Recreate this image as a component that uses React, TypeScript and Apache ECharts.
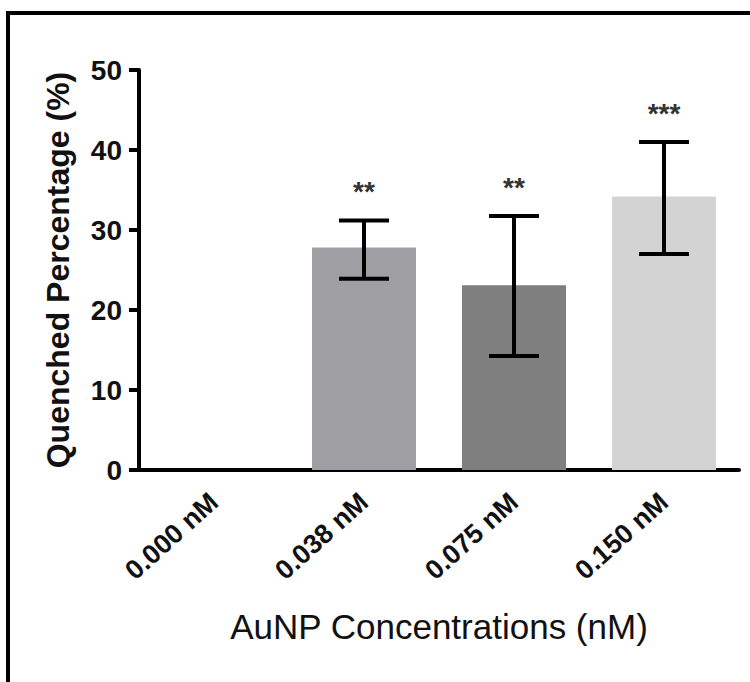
import React, { useEffect, useRef } from "react";
import * as echarts from "echarts";

const categories = ["0.000 nM", "0.038 nM", "0.075 nM", "0.150 nM"];
const means = [0, 27.8, 23.1, 34.2];
const errLow: (number | null)[] = [null, 23.9, 14.25, 27.0];
const errHigh: (number | null)[] = [null, 31.2, 31.75, 41.0];
const stars = ["", "**", "**", "***"];
const barColors = ["#9f9ea3", "#9f9ea3", "#7f7f7f", "#d3d3d3"];
const yTicks = [0, 10, 20, 30, 40, 50];

const FONT = "'Liberation Sans', Arial, Helvetica, sans-serif";

export default function App() {
  const ref = useRef<HTMLDivElement>(null);
  useEffect(() => {
    if (!ref.current) return;
    const chart = echarts.init(ref.current, null, { renderer: "svg" });
    const errData = categories.map((_, i) => [i, errLow[i], errHigh[i], stars[i]]);
    chart.setOption({
      animation: false,
      backgroundColor: "#ffffff",
      textStyle: { fontFamily: FONT },
      graphic: [
        {
          type: "rect",
          silent: true,
          z: 100,
          shape: { x: 8, y: 13, width: 900, height: 900 },
          style: { fill: "none", stroke: "#000", lineWidth: 4 },
        },
      ],
      grid: { left: 139, right: 11, top: 70, bottom: 212, containLabel: false },
      xAxis: {
        type: "category",
        data: categories,
        boundaryGap: true,
        name: "AuNP Concentrations (nM)",
        nameLocation: "middle",
        nameGap: 156,
        nameTextStyle: {
          fontFamily: FONT,
          fontSize: 35,
          color: "#111",
          verticalAlign: "middle",
        },
        axisLine: { lineStyle: { color: "#000", width: 4 } },
        axisTick: { alignWithLabel: true, length: 11, lineStyle: { color: "#000", width: 4 } },
        axisLabel: {
          rotate: 42,
          margin: 28,
          fontFamily: FONT,
          fontSize: 27,
          fontWeight: "bold",
          color: "#111",
        },
        splitLine: { show: false },
      },
      yAxis: {
        type: "value",
        min: yTicks[0],
        max: yTicks[yTicks.length - 1],
        interval: 10,
        name: "Quenched Percentage (%)",
        nameLocation: "middle",
        nameGap: 81,
        nameTextStyle: {
          fontFamily: FONT,
          fontSize: 32,
          fontWeight: "bold",
          color: "#111",
          verticalAlign: "middle",
        },
        axisLine: { show: true, lineStyle: { color: "#000", width: 4 } },
        axisTick: { show: true, length: 10, lineStyle: { color: "#000", width: 4 } },
        axisLabel: {
          margin: 17,
          fontFamily: FONT,
          fontSize: 28,
          fontWeight: "bold",
          color: "#111",
        },
        splitLine: { show: false },
      },
      series: [
        {
          type: "bar",
          barWidth: 104,
          data: means.map((v, i) => ({ value: v, itemStyle: { color: barColors[i] } })),
          z: 2,
        },
        {
          type: "custom",
          z: 5,
          data: errData,
          encode: { x: 0, y: [1, 2] },
          renderItem: (params: any, api: any) => {
            const idx = api.value(0);
            const lo = api.value(1);
            const hi = api.value(2);
            const i = params.dataIndex;
            if (errLow[i] == null || errHigh[i] == null) return null;
            const top = api.coord([idx, hi]);
            const bot = api.coord([idx, lo]);
            const half = 25;
            const ls = { stroke: "#000", lineWidth: 4 };
            return {
              type: "group",
              children: [
                { type: "line", shape: { x1: top[0], y1: top[1], x2: bot[0], y2: bot[1] }, style: ls },
                { type: "line", shape: { x1: top[0] - half, y1: top[1], x2: top[0] + half, y2: top[1] }, style: ls },
                { type: "line", shape: { x1: bot[0] - half, y1: bot[1], x2: bot[0] + half, y2: bot[1] }, style: ls },
                {
                  type: "text",
                  x: top[0],
                  y: top[1] - 29,
                  style: {
                    text: stars[i],
                    fill: "#333",
                    fontFamily: FONT,
                    fontSize: 28,
                    fontWeight: "bold",
                    align: "center",
                    verticalAlign: "middle",
                  },
                },
              ],
            };
          },
        },
      ],
    });
    return () => chart.dispose();
  }, []);
  return (
    <div
      ref={ref}
      style={{ position: "absolute", left: 0, top: 0, width: 750, height: 682 }}
    />
  );
}
